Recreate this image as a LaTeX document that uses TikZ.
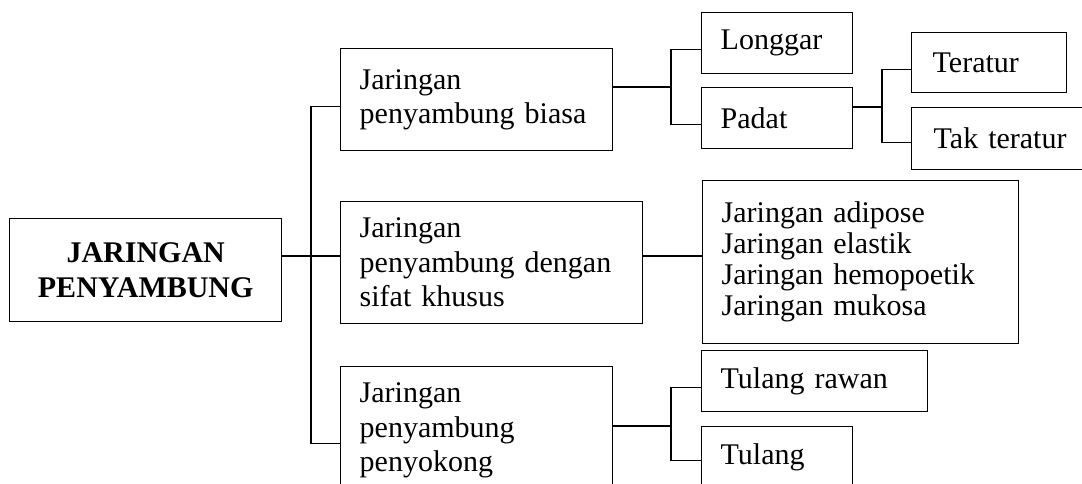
\documentclass[tikz,border=0pt]{standalone}
\usepackage{fontspec}
\setmainfont{Liberation Serif}
\usetikzlibrary{positioning,calc}

\begin{document}
\begin{tikzpicture}[
    x=1pt, y=-1pt,
    box/.style={rectangle, draw, line width=1.4pt, anchor=north west, align=left, inner xsep=19pt, inner ysep=0pt, font=\fontsize{30}{34.5}\selectfont},
    link/.style={line width=1.4pt}
]
\path[use as bounding box, fill=white] (0,0) rectangle (1082,483);
\clip (0,0) rectangle (1082,483);

\node[box, align=center, text width=234pt, minimum height=103pt, font=\fontsize{30}{34.5}\selectfont\bfseries] (root) at (9,218) {JARINGAN\\PENYAMBUNG};
\node[box, text width=234pt, minimum height=102pt] (biasa) at (340,48) {Jaringan\\penyambung biasa};
\node[box, text width=264pt, minimum height=122pt] (khusus) at (340,201) {Jaringan\\penyambung dengan\\sifat khusus};
\node[box, text width=234pt, minimum height=128pt] (penyokong) at (340,366) {Jaringan\\penyambung\\penyokong};
\node[box, text width=113pt, minimum height=61pt] (longgar) at (701,12) {Longgar};
\node[box, text width=113pt, minimum height=61pt] (padat) at (701,87) {Padat};
\node[box, text width=113pt, minimum height=60pt, inner xsep=21pt] (teratur) at (911,32) {Teratur};
\node[box, text width=142pt, minimum height=62pt, inner xsep=22pt] (takteratur) at (911,107) {Tak teratur};
\node[box, text width=278pt, minimum height=163pt, font=\fontsize{30}{31}\selectfont] (jenis) at (702,180) {Jaringan adipose\\Jaringan elastik\\Jaringan hemopoetik\\Jaringan mukosa};
\node[box, text width=188pt, minimum height=61pt] (rawan) at (701,350) {Tulang rawan};
\node[box, text width=113pt, minimum height=61pt] (tulang) at (701,426) {Tulang};

\coordinate (bus) at (311,256);
\draw[link] (root.east |- bus) -- (khusus.west |- bus);
\draw[link] ([yshift=-7pt]biasa.west) -| (bus) |- ([yshift=-13pt]penyokong.west);
\draw[link] (khusus.east |- bus) -- (jenis.west |- bus);

\coordinate (fork1) at (671,87);
\draw[link] (biasa.east |- fork1) -- (fork1);
\draw[link] ([yshift=-6pt]longgar.west) -| (fork1) |- ([yshift=-6.5pt]padat.west);

\coordinate (fork2) at (882,107);
\draw[link] (padat.east |- fork2) -- (fork2);
\draw[link] ([yshift=-7pt]teratur.west) -| (fork2) |- ([yshift=-4pt]takteratur.west);

\coordinate (fork3) at (671,426);
\draw[link] (penyokong.east |- fork3) -- (fork3);
\draw[link] ([yshift=-6.5pt]rawan.west) -| (fork3) |- ([yshift=-3.5pt]tulang.west);

\end{tikzpicture}
\end{document}
